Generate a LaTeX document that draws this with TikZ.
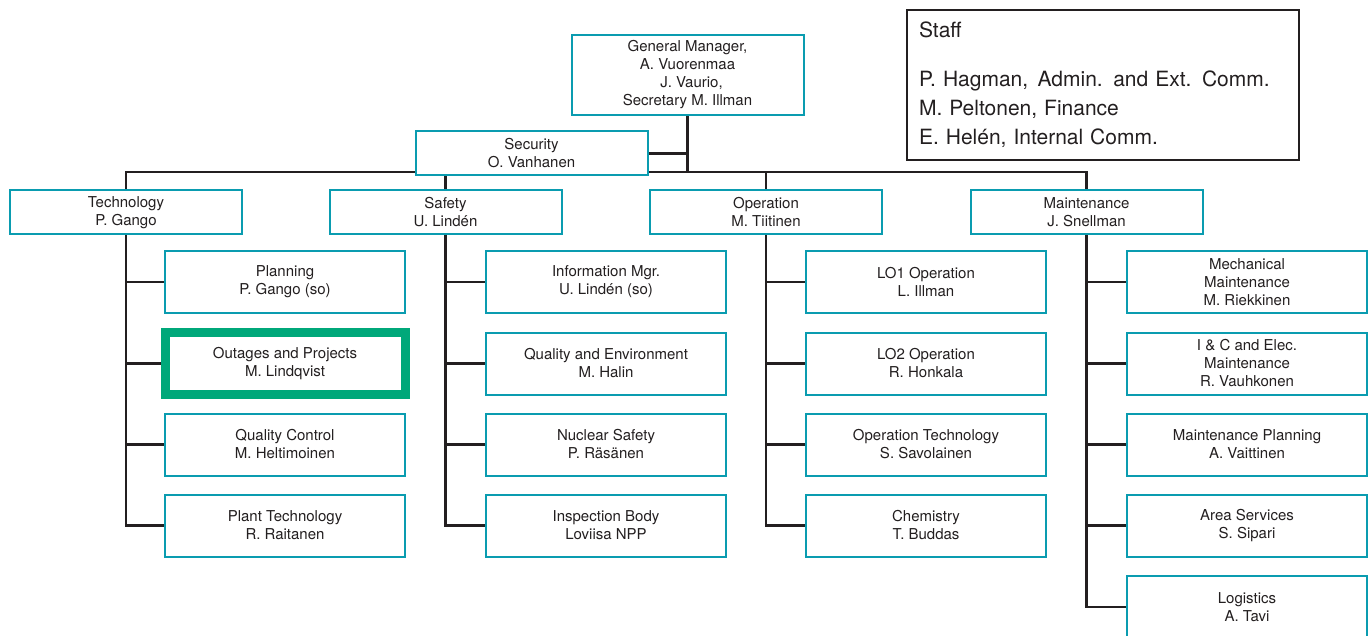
\documentclass[tikz,border=0pt]{standalone}
\usepackage{fontspec}
\setmainfont{TeX Gyre Heros}
\usetikzlibrary{backgrounds}
\definecolor{orgteal}{RGB}{10,156,176}
\definecolor{orggreen}{RGB}{0,168,122}
\definecolor{orgline}{RGB}{35,31,32}

\begin{document}
\begin{tikzpicture}[x=1pt, y=-1pt,
        unit/.style={draw=orgteal, line width=2pt, fill=white, align=center, inner sep=0pt,
            text=orgline, font=\fontsize{15}{18}\selectfont},
        head/.style={unit, minimum width=232pt, minimum height=44pt},
        sub/.style={unit, minimum width=240pt, minimum height=62pt},
        link/.style={draw=orgline, line width=2.5pt}]
        \useasboundingbox (0,0) rectangle (1370,636);

        \draw (687.5,75) node [unit, minimum width=232pt, minimum height=80pt] (gm)
            {General Manager,\\A. Vuorenmaa\\\hspace*{8pt}J. Vaurio,\\Secretary M. Illman};
        \draw (531.5,153.5) node [head] (sec) {Security\\O. Vanhanen};
        \draw (1103,85) node [draw=orgline, line width=1.5pt, minimum width=392pt, minimum height=150pt,
            inner xsep=12pt, text width=368pt, align=left, text=orgline,
            font=\fontsize{21}{29}\selectfont] (staff)
            {Staff\\[20pt]P. Hagman,\hspace{0.45em}Admin. and Ext. Comm.\\M. Peltonen, Finance\\E. Helén, Internal Comm.};

        \draw (126,212.5) node [head] (tech) {Technology\\P. Gango};
        \draw (445.5,212.5) node [head] (safety) {Safety\\U. Lindén};
        \draw (766,212.5) node [head] (oper) {Operation\\M. Tiitinen};
        \draw (1086.5,212.5) node [head] (maint) {Maintenance\\J. Snellman};

        \draw (285,282) node [sub] (plan) {Planning\\P. Gango (so)};
        \draw (285,363.5) node [sub, draw=orggreen, line width=9pt] (outage) {Outages and Projects\\M. Lindqvist};
        \draw (285,444.5) node [sub] (qc) {Quality Control\\M. Heltimoinen};
        \draw (285,525.5) node [sub] (plant) {Plant Technology\\R. Raitanen};

        \draw (606,282) node [sub] (info) {Information Mgr.\\U. Lindén (so)};
        \draw (606,363.5) node [sub] (qenv) {Quality and Environment\\M. Halin};
        \draw (606,444.5) node [sub] (nsafe) {Nuclear Safety\\P. Räsänen};
        \draw (606,525.5) node [sub] (insp) {Inspection Body\\Loviisa NPP};

        \draw (926,282) node [sub] (lo1) {LO1 Operation\\L. Illman};
        \draw (926,363.5) node [sub] (lo2) {LO2 Operation\\R. Honkala};
        \draw (926,444.5) node [sub] (otech) {Operation Technology\\S. Savolainen};
        \draw (926,525.5) node [sub] (chem) {Chemistry\\T. Buddas};

        \draw (1247,282) node [sub] (mech) {Mechanical\\Maintenance\\M. Riekkinen};
        \draw (1247,363.5) node [sub] (ic) {I \& C and Elec.\\Maintenance\\R. Vauhkonen};
        \draw (1247,444.5) node [sub] (mplan) {Maintenance Planning\\A. Vaittinen};
        \draw (1247,525.5) node [sub] (area) {Area Services\\S. Sipari};
        \draw (1247,607) node [sub] (logi) {Logistics\\A. Tavi};

        \coordinate (bar) at (687.5,172);
        \begin{scope}[on background layer]
            \draw[link] (gm.south) -- (bar);
            \draw[link] (sec.east) -- (sec.east -| gm.south);
            \draw[link] (tech.north) |- (bar) -| (maint.north);
            \draw[link] (safety.north) |- (bar);
            \draw[link] (oper.north) |- (bar);

            \foreach \c in {plan, outage, qc, plant} \draw[link] (tech.south) |- (\c.west);
            \foreach \c in {info, qenv, nsafe, insp} \draw[link] (safety.south) |- (\c.west);
            \foreach \c in {lo1, lo2, otech, chem} \draw[link] (oper.south) |- (\c.west);
            \foreach \c in {mech, ic, mplan, area, logi} \draw[link] (maint.south) |- (\c.west);
        \end{scope}
    \end{tikzpicture}
\end{document}
